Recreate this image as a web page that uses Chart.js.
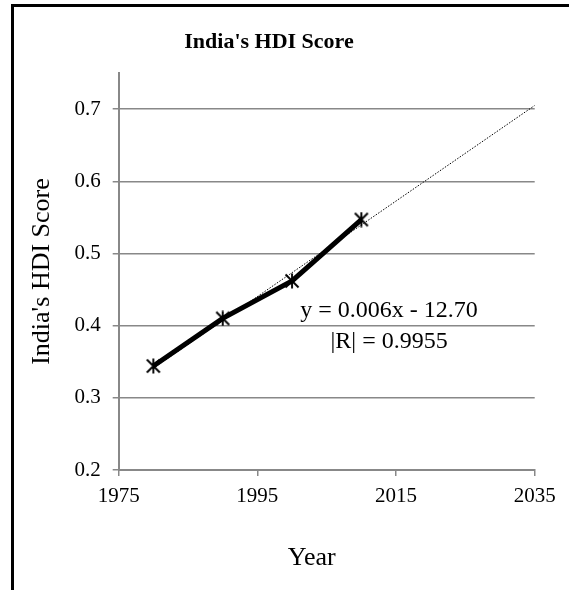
<!DOCTYPE html>
<html lang="en">
<head>
<meta charset="UTF-8">
<title>India's HDI Score</title>
<script src="https://cdn.jsdelivr.net/npm/chart.js"></script>
<style>
    html, body { margin: 0; padding: 0; background: #fff; overflow: hidden; }
    .wrap { position: relative; width: 569px; height: 590px; overflow: hidden; }
    .frame { position: absolute; left: 11px; top: 4px; width: 620px; height: 640px; border: 3px solid #000; box-sizing: border-box; pointer-events: none; }
    canvas { position: absolute; left: 0; top: 0; }
</style>
</head>
<body>
<div class="wrap">
    <canvas id="hdiChart" width="569" height="590"></canvas>
    <div class="frame"></div>
</div>
<script>
// data
const years = [1980, 1990, 2000, 2010];
const hdiScore = [0.344, 0.410, 0.462, 0.547];
const trendYears = [1980, 2035];
const trendScore = [0.341, 0.705];
const xTickValues = [1975, 1995, 2015, 2035];
const yTickValues = [0.2, 0.3, 0.4, 0.5, 0.6, 0.7];
const equationLines = ['y = 0.006x - 12.70', '|R| = 0.9955'];
const equationAnchor = { x: 2014, y: [0.421, 0.378] };

const serif = '"Liberation Serif", "Times New Roman", serif';
const gridGray = '#888888';

// Excel style star marker: an X with a vertical stroke
function makeMarker() {
    const c = document.createElement('canvas');
    c.width = 16; c.height = 16;
    const g = c.getContext('2d');
    g.strokeStyle = '#000';
    g.lineWidth = 1.9;
    g.beginPath();
    g.moveTo(1.5, 1.5); g.lineTo(14.5, 14.5);
    g.moveTo(14.5, 1.5); g.lineTo(1.5, 14.5);
    g.moveTo(8, 0.5); g.lineTo(8, 15.5);
    g.stroke();
    return c;
}
const marker = makeMarker();

const equationPlugin = {
    id: 'equationText',
    afterDatasetsDraw(chart) {
        const { ctx, scales } = chart;
        ctx.save();
        ctx.font = '24px ' + serif;
        ctx.fillStyle = '#000';
        ctx.textAlign = 'center';
        ctx.textBaseline = 'middle';
        equationLines.forEach((line, i) => {
            ctx.fillText(line, scales.x.getPixelForValue(equationAnchor.x), scales.y.getPixelForValue(equationAnchor.y[i]));
        });
        ctx.restore();
    }
};

// x title in the original sits a little left of the plot centre
const shiftXTitle = {
    id: 'shiftXTitle',
    beforeDraw(chart) {
        const sc = chart.scales.x;
        if (sc._shifted) return;
        const orig = sc.drawTitle;
        sc.drawTitle = function () {
            this.ctx.save();
            this.ctx.translate(-15, 0);
            orig.call(this);
            this.ctx.restore();
        };
        sc._shifted = true;
    }
};

new Chart(document.getElementById('hdiChart').getContext('2d'), {
    type: 'line',
    data: {
        datasets: [
            {
                label: "India's HDI Score",
                data: years.map((yr, i) => ({ x: yr, y: hdiScore[i] })),
                borderColor: '#000',
                backgroundColor: '#000',
                borderWidth: 5,
                tension: 0,
                pointStyle: marker,
                pointRadius: 8,
                order: 1
            },
            {
                label: 'Linear trend',
                data: trendYears.map((yr, i) => ({ x: yr, y: trendScore[i] })),
                borderColor: '#000',
                borderWidth: 1,
                borderDash: [1.5, 1.5],
                pointRadius: 0,
                tension: 0,
                order: 2
            }
        ]
    },
    options: {
        responsive: false,
        animation: false,
        layout: { padding: { left: 3.3, right: 34.3, top: 8, bottom: 0 } },
        plugins: {
            legend: { display: false },
            tooltip: { enabled: false },
            title: {
                display: true,
                text: "India's HDI Score",
                color: '#000',
                font: { family: serif, size: 22, weight: 'bold' },
                padding: { top: 20.8, bottom: 17.8 }
            }
        },
        scales: {
            x: {
                type: 'linear',
                min: 1975,
                max: 2035,
                afterBuildTicks: s => { s.ticks = xTickValues.map(v => ({ value: v })); },
                afterFit: s => { s.height = 120; },
                ticks: {
                    color: '#000',
                    font: { family: serif, size: 21 },
                    padding: 7.5,
                    maxRotation: 0,
                    callback: v => String(v)
                },
                grid: { drawOnChartArea: false, drawTicks: true, tickLength: 6, color: gridGray, lineWidth: 1.5 },
                border: { color: gridGray, width: 2 },
                title: {
                    display: true,
                    text: 'Year',
                    color: '#000',
                    font: { family: serif, size: 26 },
                    padding: { top: 0, bottom: 16.4 }
                }
            },
            y: {
                type: 'linear',
                min: 0.2,
                max: 0.75,
                afterBuildTicks: s => { s.ticks = yTickValues.map(v => ({ value: v })); },
                afterFit: s => { s.width = 115.4; },
                ticks: {
                    color: '#000',
                    font: { family: serif, size: 21 },
                    padding: 12,
                    callback: v => v.toFixed(1)
                },
                grid: { drawTicks: true, tickLength: 6, color: gridGray, lineWidth: 1.5 },
                border: { color: gridGray, width: 2 },
                title: {
                    display: true,
                    text: "India's HDI Score",
                    color: '#000',
                    font: { family: serif, size: 26 },
                    padding: { top: 22.8, bottom: 0 }
                }
            }
        }
    },
    plugins: [equationPlugin, shiftXTitle]
});
</script>
</body>
</html>
